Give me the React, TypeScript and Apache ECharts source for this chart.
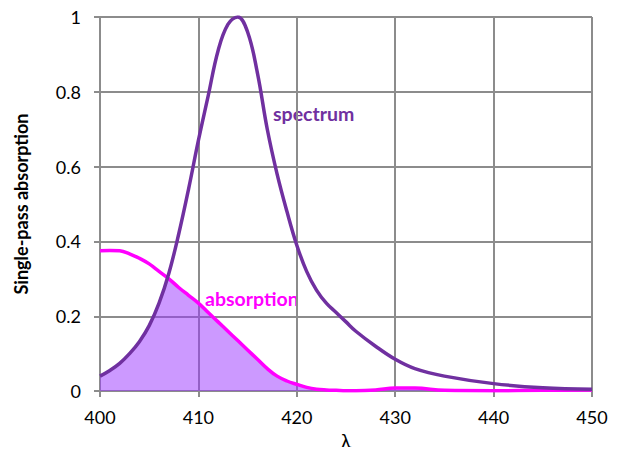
import React, { useEffect, useRef } from "react";
import * as echarts from "echarts";

const wavelengths = [400, 401, 402, 403, 404, 405, 406, 407, 408, 409, 410, 411, 412, 413, 414, 415, 416, 417, 418, 419, 420, 421, 422, 423, 424, 425, 426, 428, 430, 432, 435, 440, 445, 450];
const spectrum = [0.04, 0.055, 0.074, 0.1, 0.132, 0.175, 0.235, 0.315, 0.42, 0.54, 0.67, 0.79, 0.91, 0.98, 1.0, 0.96, 0.85, 0.70, 0.58, 0.48, 0.39, 0.32, 0.27, 0.235, 0.21, 0.185, 0.16, 0.12, 0.085, 0.06, 0.04, 0.02, 0.009, 0.005];
const absorption = [0.375, 0.376, 0.375, 0.367, 0.355, 0.34, 0.32, 0.30, 0.277, 0.256, 0.235, 0.21, 0.185, 0.16, 0.135, 0.11, 0.085, 0.06, 0.04, 0.027, 0.018, 0.01, 0.005, 0.003, 0.002, 0.001, 0.001, 0.003, 0.008, 0.008, 0.002, 0.001, 0.002, 0.003];
const yTicks = [0, 0.2, 0.4, 0.6, 0.8, 1];

const FONT = "Lato, 'Open Sans', sans-serif";
const GRID_COLOR = "#8c8c8c";

export default function App() {
  const ref = useRef<HTMLDivElement>(null);
  useEffect(() => {
    if (!ref.current) return;
    const chart = echarts.init(ref.current, null, { renderer: "svg" });
    const specData = wavelengths.map((x, i) => [x, spectrum[i]]);
    const absData = wavelengths.map((x, i) => [x, absorption[i]]);
    const overlap = wavelengths.map((x, i) => [x, Math.min(spectrum[i], absorption[i])]);
    chart.setOption({
      animation: false,
      grid: { left: 100, right: 31, top: 17, bottom: 59, containLabel: false },
      xAxis: {
        type: "value",
        min: 400,
        max: 450,
        interval: 10,
        name: "λ",
        nameLocation: "middle",
        nameGap: 38,
        nameTextStyle: { fontFamily: FONT, fontSize: 19, color: "#000" },
        axisLine: { show: true, lineStyle: { color: GRID_COLOR, width: 2 } },
        axisTick: { show: true, length: 6, lineStyle: { color: GRID_COLOR, width: 2 } },
        axisLabel: { fontFamily: FONT, fontSize: 18, color: "#000", margin: 17 },
        splitLine: { show: true, lineStyle: { color: GRID_COLOR, width: 2 } },
      },
      yAxis: {
        type: "value",
        min: 0,
        max: 1,
        interval: 0.2,
        name: "Single-pass absorption",
        nameLocation: "middle",
        nameGap: 70,
        nameTextStyle: { fontFamily: FONT, fontSize: 18, fontWeight: "bold", color: "#000" },
        axisLine: { show: true, lineStyle: { color: GRID_COLOR, width: 2 } },
        axisTick: { show: true, length: 6, lineStyle: { color: GRID_COLOR, width: 2 } },
        axisLabel: {
          fontFamily: FONT,
          fontSize: 18,
          color: "#000",
          margin: 19,
          formatter: (v: number) => {
            const t = yTicks.find((y) => Math.abs(y - v) < 1e-9);
            return t === undefined ? "" : String(t);
          },
        },
        splitLine: { show: true, lineStyle: { color: GRID_COLOR, width: 2 } },
      },
      series: [
        {
          type: "line",
          name: "overlap",
          data: overlap,
          smooth: 0.4,
          showSymbol: false,
          lineStyle: { width: 0 },
          areaStyle: { color: "rgba(153, 51, 255, 0.5)", opacity: 1 },
          z: 1,
        },
        {
          type: "line",
          name: "absorption",
          data: absData,
          smooth: 0.4,
          showSymbol: false,
          lineStyle: { color: "#ff00ff", width: 3.5 },
          z: 3,
        },
        {
          type: "line",
          name: "spectrum",
          data: specData,
          smooth: 0.4,
          showSymbol: false,
          lineStyle: { color: "#7030a0", width: 3.5 },
          z: 4,
        },
      ],
      graphic: [
        {
          type: "text",
          left: 273,
          top: 103,
          style: { text: "spectrum", fill: "#7030a0", font: `bold 19.5px ${FONT}` },
        },
        {
          type: "text",
          left: 205,
          top: 288,
          style: { text: "absorption", fill: "#ff00ff", font: `bold 19.5px ${FONT}` },
        },
      ],
    });
    return () => chart.dispose();
  }, []);
  return <div ref={ref} style={{ width: 623, height: 455, margin: -8 }} />;
}
